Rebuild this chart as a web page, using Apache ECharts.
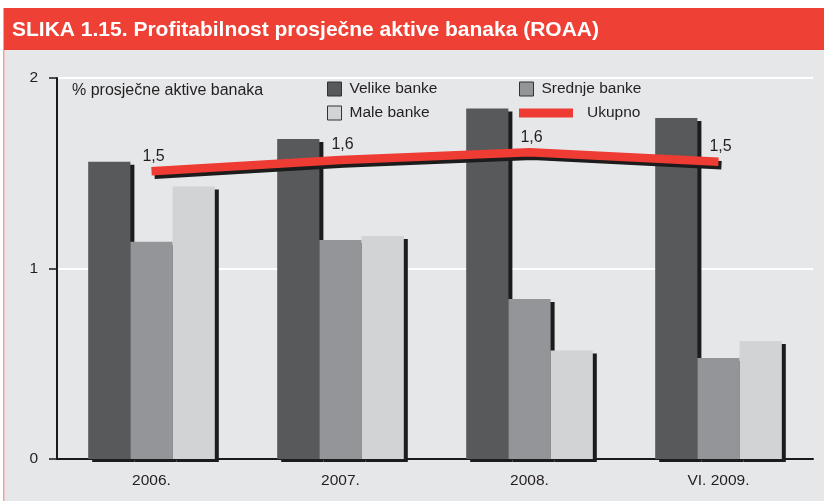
<!DOCTYPE html>
<html>
<head>
    <meta charset="utf-8">
    <title>Profitabilnost prosječne aktive banaka (ROAA)</title>
    <script src="https://cdn.jsdelivr.net/npm/echarts@6.0.0/dist/echarts.min.js"></script>
    <style>
        html, body { margin: 0; padding: 0; background: #ffffff; }
        #chart { width: 824px; height: 501px; }
    </style>
</head>
<body>
<div id="chart"></div>
<script>
    // podaci
    var godine = ['2006.', '2007.', '2008.', 'VI. 2009.'];
    var velike = [1.56, 1.68, 1.84, 1.79];
    var srednje = [1.14, 1.15, 0.84, 0.53];
    var male = [1.43, 1.17, 0.57, 0.62];
    var ukupno = [1.51, 1.57, 1.61, 1.56];
    var ukupnoOznake = ['1,5', '1,6', '1,6', '1,5'];
    var yTicks = [0, 1, 2];

    var txt = '#231f20';
    var font = 'Liberation Sans, Arial, sans-serif';

    function stupac(ime, boja, vrijednosti) {
        return {
            name: ime,
            type: 'bar',
            data: vrijednosti,
            barGap: '0%',
            barCategoryGap: '33%',
            itemStyle: {
                color: boja,
                shadowColor: '#1c1c1c',
                shadowBlur: 0,
                shadowOffsetX: 4,
                shadowOffsetY: 3
            }
        };
    }

    function legenda(ime, lijevo, gore, sirina, visina, razmak) {
        return {
            data: [ime],
            left: lijevo,
            top: gore,
            padding: 0,
            icon: 'rect',
            itemWidth: sirina,
            itemHeight: visina,
            textStyle: { fontSize: 15.5, color: txt, fontFamily: font, padding: [0, 0, 0, razmak] },
            itemStyle: { borderColor: '#333333', borderWidth: 1, shadowColor: 'transparent', shadowBlur: 0, shadowOffsetX: 0, shadowOffsetY: 0 },
            lineStyle: { shadowColor: 'transparent' }
        };
    }

    var myChart = echarts.init(document.getElementById('chart'));
    var option = {
        animation: false,
        textStyle: { fontFamily: font },
        graphic: [
            { type: 'rect', z: -10, shape: { x: 4, y: 8, width: 820, height: 493 }, style: { fill: '#e6e7e8' } },
            { type: 'rect', z: -9, shape: { x: 3, y: 8, width: 1.5, height: 493 }, style: { fill: '#f2a29c' } },
            { type: 'rect', z: -8, shape: { x: 4, y: 8, width: 820, height: 42 }, style: { fill: '#ee4035' } },
            {
                type: 'text', left: 12, top: 20, z: 10,
                style: {
                    text: 'SLIKA 1.15. Profitabilnost prosječne aktive banaka (ROAA)',
                    fill: '#ffffff', font: 'bold 21px Liberation Sans, Arial, sans-serif'
                }
            },
            {
                type: 'text', left: 72, top: 83, z: 10,
                style: { text: '% prosječne aktive banaka', fill: txt, font: '16px Liberation Sans, Arial, sans-serif' }
            }
        ],
        legend: [
            legenda('Velike banke', 327, 81, 14, 14, 3),
            legenda('Srednje banke', 519, 81, 14, 14, 3),
            legenda('Male banke', 327, 105, 14, 14, 3),
            Object.assign(legenda('Ukupno', 519, 105, 54, 9, 9), { itemStyle: { borderWidth: 0, shadowColor: 'transparent' } })
        ],
        grid: { left: 57, right: 11, top: 78, bottom: 42 },
        xAxis: {
            type: 'category',
            data: godine,
            axisLine: { lineStyle: { color: '#1a1a1a', width: 2 } },
            axisTick: { length: 8, lineStyle: { color: '#1a1a1a', width: 1.5 } },
            axisLabel: { fontSize: 15.5, color: txt, margin: 14 }
        },
        yAxis: {
            type: 'value',
            min: yTicks[0],
            max: yTicks[yTicks.length - 1],
            interval: 1,
            axisLine: { show: true, lineStyle: { color: '#1a1a1a', width: 2 } },
            axisTick: { show: true, length: 8, lineStyle: { color: '#1a1a1a', width: 1.5 } },
            axisLabel: { fontSize: 15.5, color: txt, margin: 19 },
            splitLine: { lineStyle: { color: '#ffffff', width: 2 } }
        },
        series: [
            stupac('Velike banke', '#58595b', velike),
            stupac('Srednje banke', '#939598', srednje),
            stupac('Male banke', '#d1d3d4', male),
            {
                name: 'Ukupno',
                type: 'line',
                data: ukupno,
                z: 5,
                symbol: 'circle',
                symbolSize: 0,
                showSymbol: true,
                itemStyle: { color: '#ee3b33' },
                lineStyle: {
                    color: '#ee3b33',
                    width: 8.5,
                    cap: 'butt',
                    shadowColor: '#1c1c1c',
                    shadowBlur: 0,
                    shadowOffsetX: 3,
                    shadowOffsetY: 3.5
                },
                label: {
                    show: true,
                    position: 'top',
                    distance: 7,
                    offset: [2, 0],
                    fontSize: 16,
                    color: txt,
                    formatter: function (p) { return ukupnoOznake[p.dataIndex]; }
                }
            }
        ]
    };
    myChart.setOption(option);
</script>
</body>
</html>
